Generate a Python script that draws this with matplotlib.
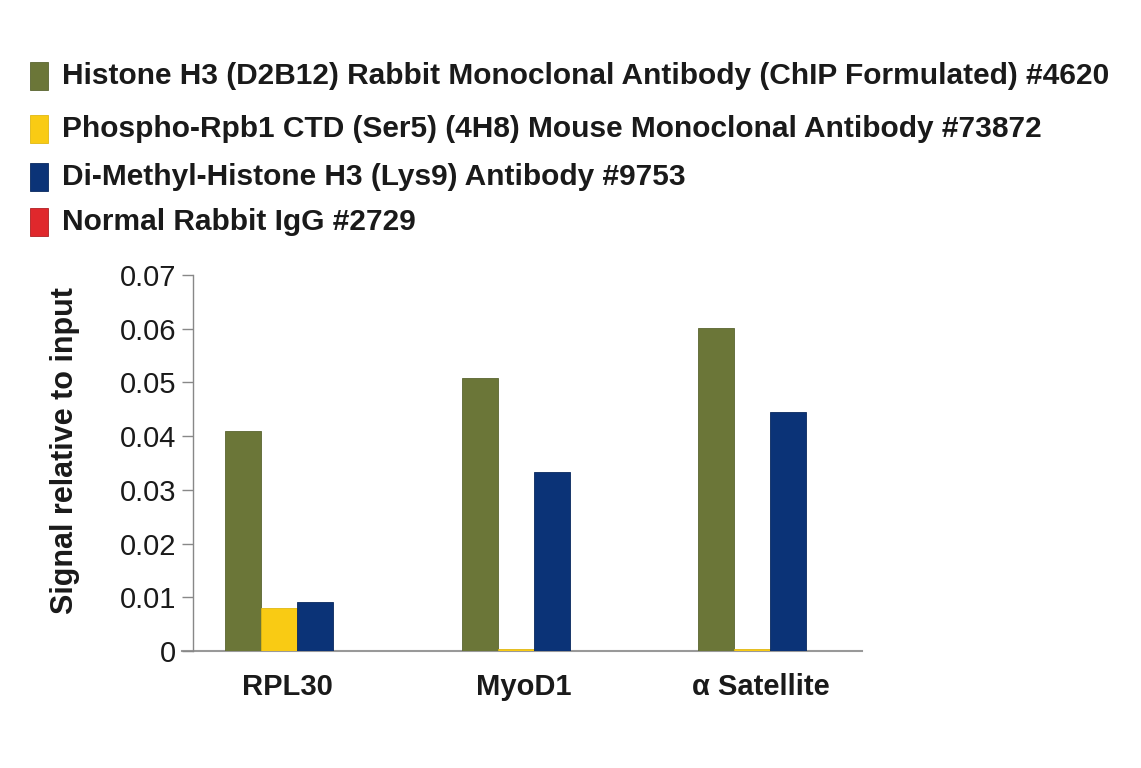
import matplotlib
matplotlib.use("Agg")
import matplotlib.pyplot as plt
from matplotlib.patches import Rectangle
import numpy as np

plt.rcParams['font.family'] = ['Liberation Sans', 'DejaVu Sans']

categories = ["RPL30", "MyoD1", "α Satellite"]
series_names = [
    "Histone H3 (D2B12) Rabbit Monoclonal Antibody (ChIP Formulated) #4620",
    "Phospho-Rpb1 CTD (Ser5) (4H8) Mouse Monoclonal Antibody #73872",
    "Di-Methyl-Histone H3 (Lys9) Antibody #9753",
    "Normal Rabbit IgG #2729",
]
histone_h3 = [0.0410, 0.0508, 0.0601]
phospho_rpb1 = [0.0080, 0.0004, 0.0004]
dimethyl_h3k9 = [0.0091, 0.0333, 0.0445]
rabbit_igg = [0.0, 0.0, 0.0]
yticks = [0, 0.01, 0.02, 0.03, 0.04, 0.05, 0.06, 0.07]
ytick_labels = ["0", "0.01", "0.02", "0.03", "0.04", "0.05", "0.06", "0.07"]

colors = ["#6b7638", "#f9cb14", "#0b3377", "#e0282c"]
edges = ["#5a6430", "#e0b812", "#08285e", "#b01f22"]

W, H = 1141, 768
fig = plt.figure(figsize=(W / 100, H / 100), dpi=100)
ax = fig.add_axes([182 / W, 1 - 651 / H, (862 - 182) / W, (651 - 275) / H])

for s in ['top', 'right']:
    ax.spines[s].set_visible(False)
ax.spines['left'].set_position(('axes', 11 / 680))
ax.spines['left'].set_color('#888888')
ax.spines['bottom'].set_color('#999999')
ax.spines['bottom'].set_linewidth(1.5)
ax.spines['left'].set_linewidth(1)
ax.spines['bottom'].set_zorder(1)

series = [histone_h3, phospho_rpb1, dimethyl_h3k9, rabbit_igg]
x = np.arange(len(categories))
bw = 36 / 236.25
for j, (vals, c, ec) in enumerate(zip(series, colors, edges)):
    ax.bar(x + (j - 1.5) * bw, vals, width=bw, color=c, edgecolor=ec, linewidth=0.6, zorder=2)

ax.set_xlim(-0.488, 2.390)
ax.set_ylim(0, 0.07)
ax.set_yticks(yticks)
ax.set_yticklabels(ytick_labels, fontsize=21, color='#1a1a1a')
ax.set_xticks(x - 0.04)
ax.set_xticklabels(categories, fontsize=21, fontweight='bold', color='#1a1a1a')
ax.tick_params(axis='x', length=0, pad=16)
ax.tick_params(axis='y', length=8, width=1, color='#888888', pad=4)

fig.text(65 / W, 1 - 451 / H, "Signal relative to input", rotation=90,
         ha='center', va='center', fontsize=22, fontweight='bold', color='#1a1a1a')

# legend
row_y = [76, 129, 177, 222]
for name, c, ec, yy in zip(series_names, colors, edges, row_y):
    fig.patches.append(Rectangle((30 / W, 1 - (yy + 14) / H), 18 / W, 28 / H,
                                 transform=fig.transFigure, facecolor=c,
                                 edgecolor=ec, linewidth=0.6))
    fig.text(62 / W, 1 - yy / H, name, ha='left', va='center',
             fontsize=21.5, fontweight='bold', color='#1a1a1a')

fig.savefig("out.png", dpi=100)
